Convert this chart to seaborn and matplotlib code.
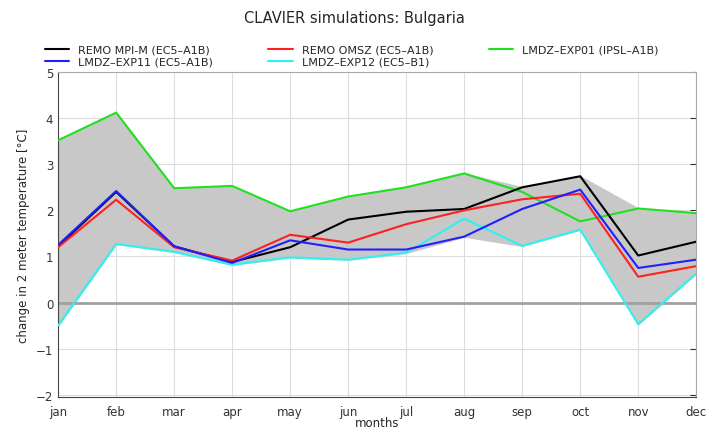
import pandas as pd
import seaborn as sns
import matplotlib.pyplot as plt

months = ["jan", "feb", "mar", "apr", "may", "jun", "jul", "aug", "sep", "oct", "nov", "dec"]

remo_mpi = [1.22, 2.40, 1.22, 0.88, 1.20, 1.80, 1.97, 2.03, 2.50, 2.74, 1.02, 1.32]
remo_omsz = [1.20, 2.23, 1.20, 0.91, 1.47, 1.30, 1.70, 2.00, 2.24, 2.36, 0.56, 0.79]
lmdz_exp01 = [3.52, 4.12, 2.48, 2.53, 1.98, 2.30, 2.50, 2.80, 2.40, 1.76, 2.04, 1.94]
lmdz_exp11 = [1.25, 2.42, 1.22, 0.86, 1.35, 1.15, 1.15, 1.43, 2.03, 2.45, 0.75, 0.93]
lmdz_exp12 = [-0.50, 1.27, 1.10, 0.82, 0.98, 0.93, 1.08, 1.82, 1.23, 1.58, -0.47, 0.63]

series = {
    "REMO MPI-M (EC5\u2013A1B)": (remo_mpi, "#000000"),
    "REMO OMSZ (EC5\u2013A1B)": (remo_omsz, "#ff2020"),
    "LMDZ\u2013EXP01 (IPSL\u2013A1B)": (lmdz_exp01, "#20e020"),
    "LMDZ\u2013EXP11 (EC5\u2013A1B)": (lmdz_exp11, "#2020ff"),
    "LMDZ\u2013EXP12 (EC5\u2013B1)": (lmdz_exp12, "#30f0f0"),
}

rows = []
for name, (vals, _) in series.items():
    for i, v in enumerate(vals):
        rows.append({"month": i, "run": name, "dT": v})
df = pd.DataFrame(rows)
wide = df.pivot(index="month", columns="run", values="dT")

sns.set_style("white")
plt.rcParams["font.family"] = ["DejaVu Sans"]
fig, ax = plt.subplots(figsize=(7.09, 4.35), dpi=100)
fig.subplots_adjust(left=0.082, right=0.982, top=0.832, bottom=0.085)

ax.fill_between(wide.index, wide.min(axis=1), wide.max(axis=1), color="#c8c8c8", zorder=1)
ax.axhline(0, color="#a0a0a0", lw=2, zorder=1.5)

draw_order = ["LMDZ\u2013EXP01 (IPSL\u2013A1B)", "LMDZ\u2013EXP12 (EC5\u2013B1)",
              "REMO MPI-M (EC5\u2013A1B)", "REMO OMSZ (EC5\u2013A1B)", "LMDZ\u2013EXP11 (EC5\u2013A1B)"]
for name in draw_order:
    sub = df[df["run"] == name]
    sns.lineplot(data=sub, x="month", y="dT", color=series[name][1], lw=1.5,
                 ax=ax, label=name, zorder=3)

ax.set_xlim(0, 11)
ax.set_ylim(-2.05, 5)
ax.set_xticks(range(12))
ax.set_xticklabels(months)
ax.set_yticks(range(-2, 6))
ax.grid(True, color="#dcdcdc", lw=0.8)
ax.tick_params(axis="both", direction="in", labelsize=8.5, colors="#333333",
               right=True, top=False, length=4)
ax.tick_params(axis="x", pad=6)
for side in ["left", "bottom"]:
    ax.spines[side].set_color("#444444")
for side in ["top", "right"]:
    ax.spines[side].set_color("#aaaaaa")

ax.set_xlabel("months", fontsize=8.5, labelpad=-2)
ax.set_ylabel("change in 2 meter temperature [\u00b0C]", fontsize=8.5)
fig.suptitle("CLAVIER simulations: Bulgaria", fontsize=10.5, y=0.975)

handles, labels = ax.get_legend_handles_labels()
lookup = dict(zip(labels, handles))
order = ["REMO MPI-M (EC5\u2013A1B)", "LMDZ\u2013EXP11 (EC5\u2013A1B)",
         "REMO OMSZ (EC5\u2013A1B)", "LMDZ\u2013EXP12 (EC5\u2013B1)",
         "LMDZ\u2013EXP01 (IPSL\u2013A1B)"]
ax.legend([lookup[o] for o in order], order, ncol=3, frameon=False, fontsize=8,
          loc="lower left", bbox_to_anchor=(-0.03, 1.0), columnspacing=5.0,
          handlelength=2.2, borderaxespad=0.1, labelspacing=0.15)

plt.savefig("out.png", dpi=100)
